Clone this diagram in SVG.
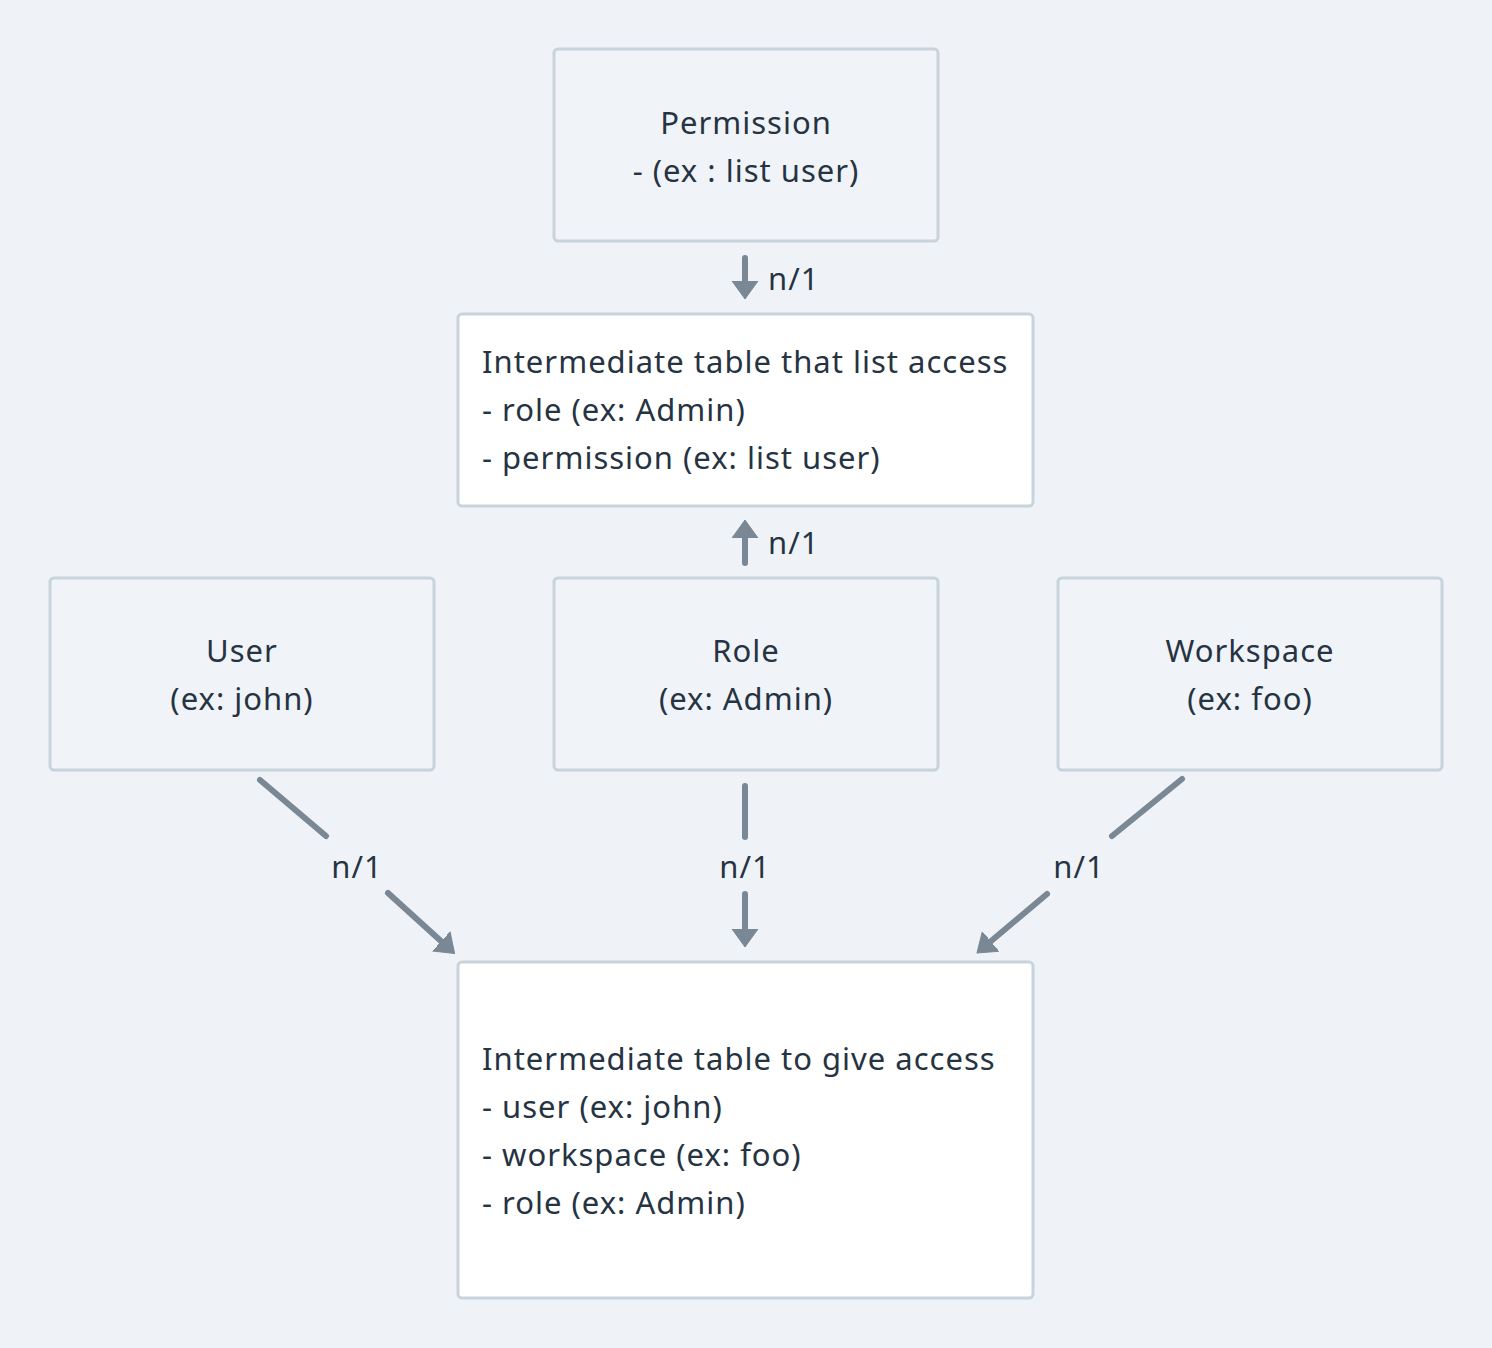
<svg xmlns="http://www.w3.org/2000/svg" width="1492" height="1348" viewBox="0 0 1492 1348">
<style>
.bg{fill:#eff3f7}
.box{fill:#f0f4f8;stroke:#c8d3dc;stroke-width:3}
.wbox{fill:#ffffff;stroke:#c8d3dc;stroke-width:3}
.t{font-family:"Noto Sans",sans-serif;font-size:31px;letter-spacing:1px;fill:#263342}
.c{text-anchor:middle}
.ln{stroke:#7a8896;stroke-width:6;stroke-linecap:round;fill:none}
</style>
<defs>
<marker id="ah" markerUnits="userSpaceOnUse" markerWidth="20" markerHeight="28" viewBox="0 0 20 28" refX="1" refY="14" orient="auto">
<path d="M0,1 L18,14 L0,27 Z" fill="#7a8896" stroke="#7a8896" stroke-width="1" stroke-linejoin="round"/>
</marker>
</defs>
<rect class="bg" x="0" y="0" width="1492" height="1348"/>
<g id="connectors">
<line class="ln" x1="745" y1="258" x2="745" y2="282" marker-end="url(#ah)"/>
<text class="t" x="768" y="290">n/1</text>
<line class="ln" x1="745" y1="563" x2="745" y2="537" marker-end="url(#ah)"/>
<text class="t" x="768" y="554">n/1</text>
<line class="ln" x1="260" y1="780" x2="326" y2="836"/>
<line class="ln" x1="388" y1="893" x2="442" y2="942" marker-end="url(#ah)"/>
<text class="t c" x="357" y="878">n/1</text>
<line class="ln" x1="745" y1="786" x2="745" y2="837"/>
<line class="ln" x1="745" y1="894" x2="745" y2="930" marker-end="url(#ah)"/>
<text class="t c" x="745" y="878">n/1</text>
<line class="ln" x1="1182" y1="779" x2="1112" y2="836"/>
<line class="ln" x1="1047" y1="894" x2="990" y2="942" marker-end="url(#ah)"/>
<text class="t c" x="1079" y="878">n/1</text>
</g>
<g id="permission">
<rect class="box" x="554" y="49" width="384" height="192" rx="4"/>
<text class="t c" x="746" y="134">Permission</text>
<text class="t c" x="746" y="182">- (ex : list user)</text>
</g>
<g id="access-list">
<rect class="wbox" x="458" y="314" width="575" height="192" rx="4"/>
<text class="t" x="482" y="373">Intermediate table that list access</text>
<text class="t" x="482" y="421">- role (ex: Admin)</text>
<text class="t" x="482" y="469">- permission (ex: list user)</text>
</g>
<g id="user">
<rect class="box" x="50" y="578" width="384" height="192" rx="4"/>
<text class="t c" x="242" y="662">User</text>
<text class="t c" x="242" y="710">(ex: john)</text>
</g>
<g id="role">
<rect class="box" x="554" y="578" width="384" height="192" rx="4"/>
<text class="t c" x="746" y="662">Role</text>
<text class="t c" x="746" y="710">(ex: Admin)</text>
</g>
<g id="workspace">
<rect class="box" x="1058" y="578" width="384" height="192" rx="4"/>
<text class="t c" x="1250" y="662">Workspace</text>
<text class="t c" x="1250" y="710">(ex: foo)</text>
</g>
<g id="give-access">
<rect class="wbox" x="458" y="962" width="575" height="336" rx="4"/>
<text class="t" x="482" y="1070">Intermediate table to give access</text>
<text class="t" x="482" y="1118">- user (ex: john)</text>
<text class="t" x="482" y="1166">- workspace (ex: foo)</text>
<text class="t" x="482" y="1214">- role (ex: Admin)</text>
</g>
</svg>
